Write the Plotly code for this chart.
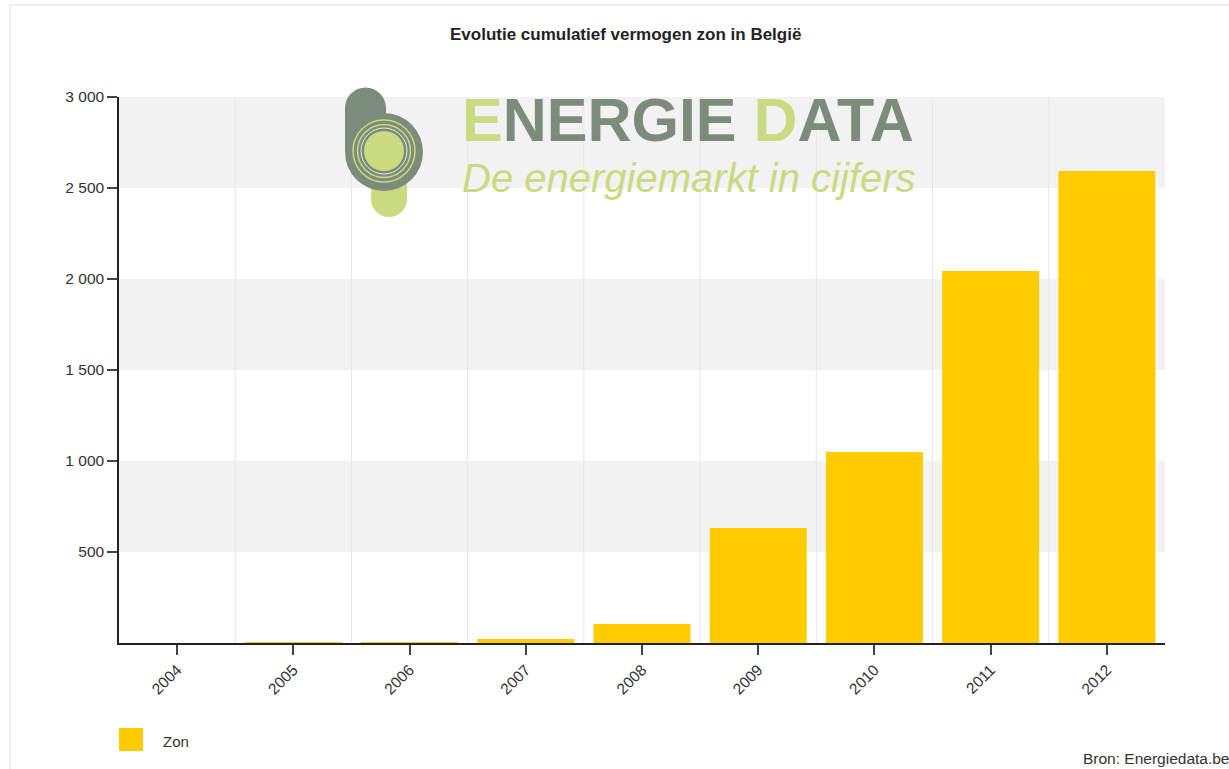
import plotly.graph_objects as go

# ---- data ----
years = ["2004", "2005", "2006", "2007", "2008", "2009", "2010", "2011", "2012"]
zon_mw = [0, 2, 4, 22, 104, 632, 1049, 2044, 2593]
series_name = "Zon"
y_tickvals = [500, 1000, 1500, 2000, 2500, 3000]
y_ticktext = ["500", "1 000", "1 500", "2 000", "2 500", "3 000"]
band_ranges = [(500, 1000), (1500, 2000), (2500, 3000)]
title_text = "Evolutie cumulatief vermogen zon in België"
source_text = "Bron: Energiedata.be"

# ---- layout geometry (pixels) ----
FW, FH = 1229, 769
L, R, T, B = 119, 1165, 97, 643
W, H = R - L, B - T


def px(x):
    return (x - L) / W


def py(y):
    return (B - y) / H


BAR = "#FFCC00"
FONT = "Liberation Sans, Arial, sans-serif"

fig = go.Figure()
fig.add_trace(go.Bar(
    x=years, y=zon_mw, name=series_name,
    marker=dict(color=BAR, line=dict(width=0)),
    showlegend=False,
))

shapes = []
# outer frame
shapes.append(dict(type="rect", xref="paper", yref="paper",
                   x0=px(10), x1=px(FW + 20), y0=py(5), y1=py(FH + 20),
                   line=dict(color="#dcdcdc", width=1), fillcolor="rgba(0,0,0,0)",
                   layer="below"))
# alternating bands
for lo, hi in band_ranges:
    shapes.append(dict(type="rect", xref="paper", yref="y", x0=0, x1=1, y0=lo, y1=hi,
                       fillcolor="#f2f2f2", line=dict(width=0), layer="below"))
# vertical grid lines at category boundaries
for i in range(1, len(years)):
    shapes.append(dict(type="line", xref="x", yref="paper", x0=i - 0.5, x1=i - 0.5,
                       y0=0, y1=1, line=dict(color="#e6e6e6", width=1), layer="below"))

# logo icon (watermark)
DARK = "#7b8c7b"
LIGHT = "#c9da80"


def circ(cx, cy, r, fill, line_color=None, lw=0):
    return dict(type="circle", xref="paper", yref="paper",
                x0=px(cx - r), x1=px(cx + r), y0=py(cy + r), y1=py(cy - r),
                fillcolor=fill, line=dict(color=line_color or "rgba(0,0,0,0)", width=lw),
                layer="below")


def rect(x0, y0, x1, y1, fill):
    return dict(type="rect", xref="paper", yref="paper",
                x0=px(x0), x1=px(x1), y0=py(y1), y1=py(y0),
                fillcolor=fill, line=dict(width=0), layer="below")


shapes.append(rect(371, 170, 407, 200, LIGHT))
shapes.append(circ(389, 199, 18, LIGHT))
shapes.append(rect(345, 107, 386, 152, DARK))
shapes.append(circ(365.5, 108, 20.5, DARK))
shapes.append(circ(384, 152, 39, DARK))
shapes.append(circ(384, 151, 31, "rgba(0,0,0,0)", LIGHT, 1.5))
shapes.append(circ(384, 151, 26.5, "rgba(0,0,0,0)", LIGHT, 1.5))
shapes.append(circ(384, 151, 23, "rgba(0,0,0,0)", "#e8eee0", 1))
shapes.append(circ(384, 151, 20, LIGHT))

# legend swatch
shapes.append(dict(type="rect", xref="paper", yref="paper",
                   x0=px(119), x1=px(143), y0=py(751), y1=py(728),
                   fillcolor=BAR, line=dict(width=0)))

annotations = [
    dict(text=title_text, xref="paper", yref="paper", x=px(625), y=py(35),
         xanchor="center", yanchor="middle", showarrow=False,
         font=dict(family=FONT, size=17, color="#222222", weight="bold")),
    dict(text=f"<span style='color:{LIGHT}'>E</span>NERGIE <span style='color:{LIGHT}'>D</span>ATA",
         xref="paper", yref="paper", x=px(460), y=py(120),
         xanchor="left", yanchor="middle", showarrow=False,
         font=dict(family=FONT, size=61, color=DARK, weight="bold")),
    dict(text="<i>De energiemarkt in cijfers</i>",
         xref="paper", yref="paper", x=px(460), y=py(178),
         xanchor="left", yanchor="middle", showarrow=False,
         font=dict(family=FONT, size=40, color=LIGHT)),
    dict(text=series_name, xref="paper", yref="paper", x=px(161), y=py(741),
         xanchor="left", yanchor="middle", showarrow=False,
         font=dict(family=FONT, size=15, color="#333333")),
    dict(text=source_text, xref="paper", yref="paper", x=px(1081), y=py(758),
         xanchor="left", yanchor="middle", showarrow=False,
         font=dict(family=FONT, size=15.5, color="#333333")),
]

fig.update_layout(
    width=FW, height=FH,
    margin=dict(l=L, r=FW - R, t=T, b=FH - B, pad=0),
    paper_bgcolor="white", plot_bgcolor="white",
    bargap=0.165,
    shapes=shapes,
    annotations=annotations,
    font=dict(family=FONT, size=15, color="#444444"),
    xaxis=dict(
        type="category", range=[-0.5, len(years) - 0.5],
        showgrid=False, showline=True, linecolor="#222222", linewidth=1.5,
        ticks="outside", ticklen=10, tickwidth=1.5, tickcolor="#444444",
        tickangle=-45, tickfont=dict(family=FONT, size=15.5, color="#333333"),
        zeroline=False,
    ),
    yaxis=dict(
        range=[0, 3000], tickvals=y_tickvals, ticktext=y_ticktext,
        showgrid=False, showline=True, linecolor="#222222", linewidth=1.5,
        ticks="outside", ticklen=10, tickwidth=1.5, tickcolor="#444444",
        tickfont=dict(family=FONT, size=15.5, color="#333333"),
        zeroline=False,
    ),
    showlegend=False,
)

fig.write_html("out.html", config={"displayModeBar": False},
               post_script="document.body.style.margin='0';document.body.style.overflow='hidden';")
